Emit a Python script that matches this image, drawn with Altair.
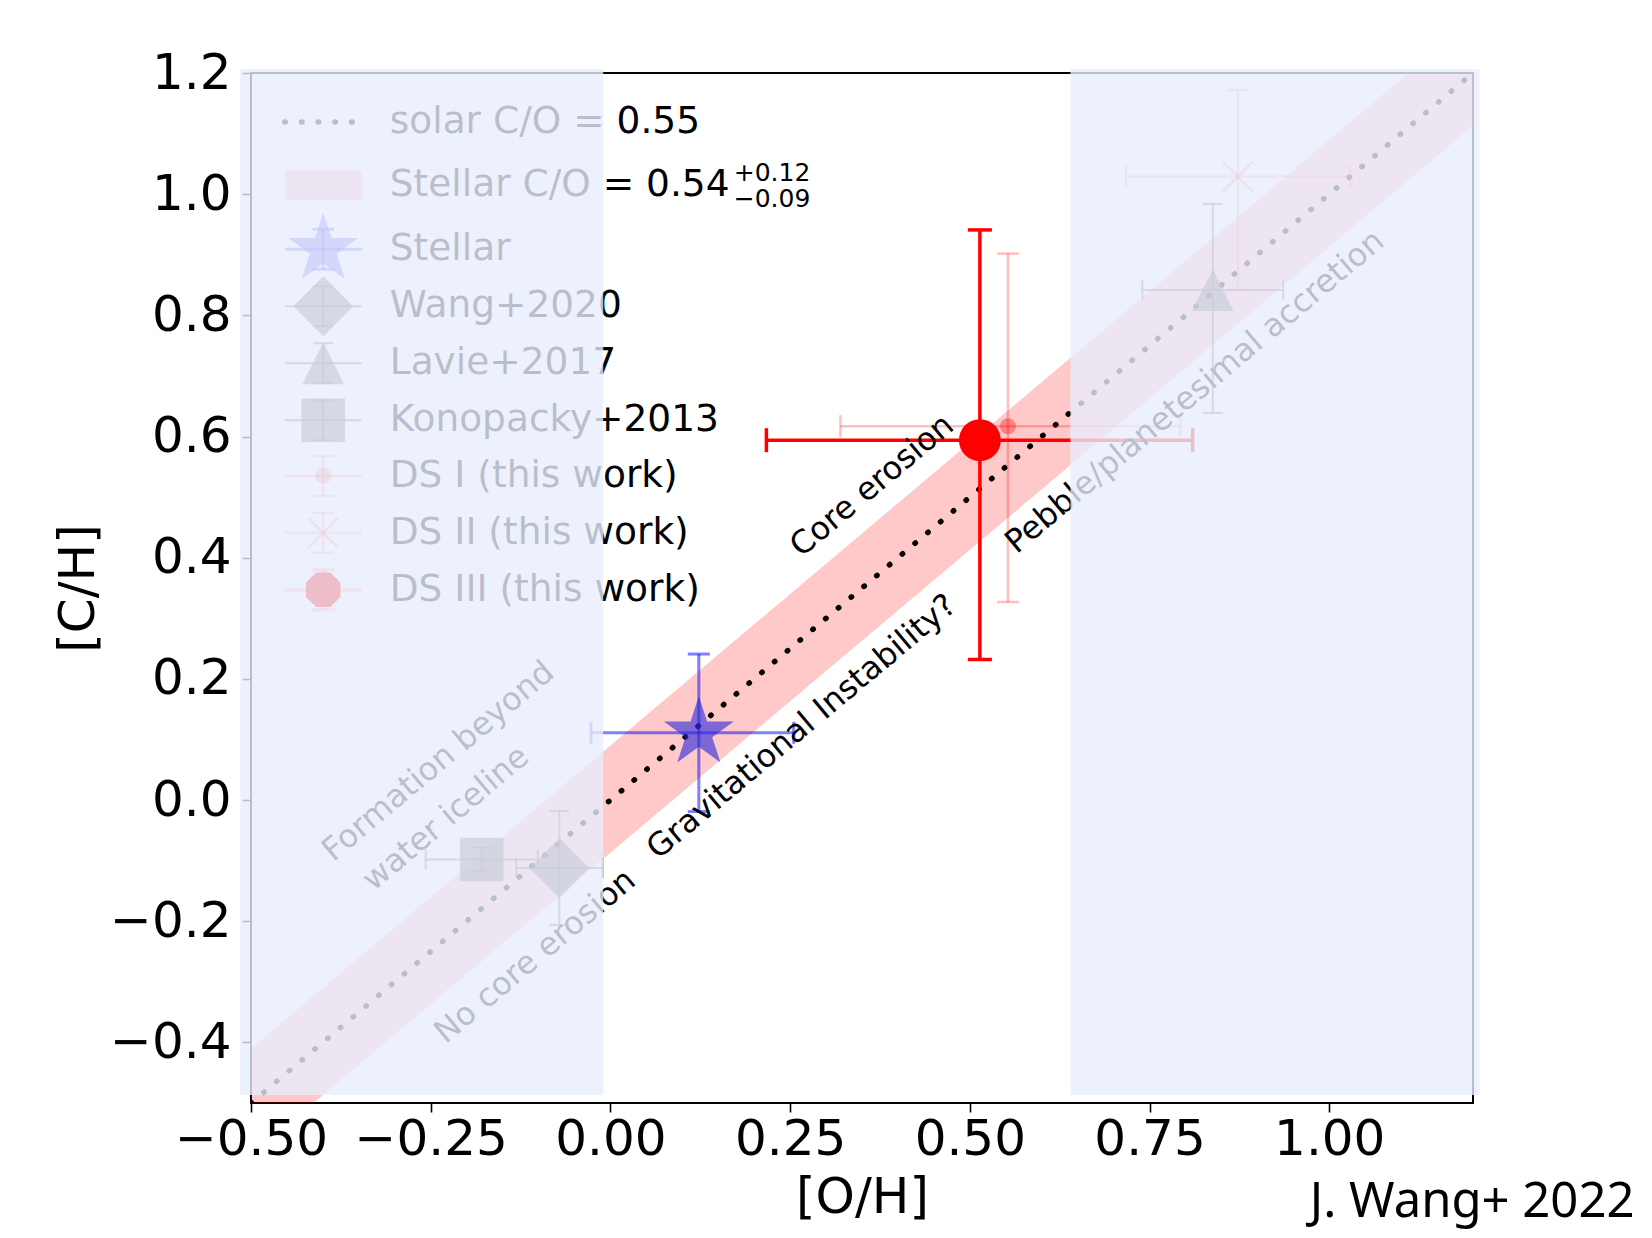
import math
import altair as alt
import pandas as pd

# ---------------- data ----------------
names = ["Stellar", "Wang+2020", "Lavie+2017", "Konopacky+2013",
         "DS I (this work)", "DS II (this work)", "DS III (this work)"]
oh     = [0.123, -0.071, 0.838, -0.179, 0.553, 0.873, 0.514]
ch     = [0.111, -0.112, 0.842, -0.098, 0.617, 1.029, 0.594]
oh_elo = [0.150, 0.060, 0.098, 0.078, 0.233, 0.156, 0.297]
oh_ehi = [0.132, 0.060, 0.098, 0.078, 0.240, 0.156, 0.296]
ch_elo = [0.130, 0.094, 0.203, 0.020, 0.290, 0.187, 0.362]
ch_ehi = [0.130, 0.094, 0.142, 0.020, 0.285, 0.143, 0.347]

# solar C/O line and stellar C/O band
solar_oh = [-0.5, 1.2]
solar_ch = [-0.5, 1.2]
band_oh = [-0.6, 1.3]
band_ch_lo = [-0.687, 1.213]
band_ch_hi = [-0.510, 1.390]

legend_labels = ["solar C/O = 0.55", "Stellar C/O = 0.54", "Stellar", "Wang+2020",
                 "Lavie+2017", "Konopacky+2013", "DS I (this work)",
                 "DS II (this work)", "DS III (this work)"]
stellar_sup = "+0.12"
stellar_sub = "\u22120.09"

ann_text = ["Core erosion", "Gravitational Instability?", "No core erosion",
            "Formation beyond", "water iceline", "Pebble/planetesimal accretion"]
ann_oh = [0.364, 0.266, -0.105, -0.2395, -0.229, 0.813]
ann_ch = [0.519, 0.121, -0.258, 0.064, -0.030, 0.674]

# shaded (faded) regions laid over the figure
shade_oh0 = [-0.515, 0.640]
shade_oh1 = [-0.010, 1.209]
shade_ch0 = [-0.487, -0.487]
shade_ch1 = [1.206, 1.206]

x_ticks = [-0.5, -0.25, 0.0, 0.25, 0.5, 0.75, 1.0]
y_ticks = [-0.4, -0.2, 0.0, 0.2, 0.4, 0.6, 0.8, 1.0, 1.2]

# ---------------- layout / style ----------------
W, H = 1222, 1030
FONT = "DejaVu Sans"
XS = alt.Scale(domain=[-0.5, 1.2], nice=False, zero=False)
YS = alt.Scale(domain=[-0.5, 1.2], nice=False, zero=False)

# legend layout (data units of the axes)
leg_y = [1.119, 1.015, 0.909, 0.815, 0.721, 0.627, 0.535, 0.441, 0.347]
leg_x0, leg_x1, leg_xc, leg_xt = -0.453, -0.346, -0.3995, -0.307
leg_half = 0.033


def star_path(n=5, inner=0.381966):
    pts = []
    for k in range(2 * n):
        r = 1.0 if k % 2 == 0 else inner
        a = math.pi / 2 + k * math.pi / n
        pts.append((r * math.cos(a), -r * math.sin(a)))
    return "M" + "L".join(f"{x:.4f},{y:.4f}" for x, y in pts) + "Z"


def octagon_path():
    pts = []
    for k in range(8):
        a = math.radians(22.5 + 45 * k)
        pts.append((math.cos(a), math.sin(a)))
    return "M" + "L".join(f"{x:.4f},{y:.4f}" for x, y in pts) + "Z"


STAR = star_path()
DIAMOND = "M0,-1L1,0L0,1L-1,0Z"
TRIANGLE = "M0,-1L1,1L-1,1Z"
SQUARE = "M-1,-1L1,-1L1,1L-1,1Z"
XMARK = "M-1,-1L1,1M-1,1L1,-1"
OCTAGON = octagon_path()

GRAY_M = "#4a4a4a"
styles = {
    "Stellar": dict(shape=STAR, size=5400, fill="#2b2bdc", mop=0.62, filled=True,
                    bar="#0000ff", bop=0.5, sw=3, cap=22),
    "Wang+2020": dict(shape=DIAMOND, size=3600, fill=GRAY_M, mop=0.65, filled=True,
                      bar="#555555", bop=0.7, sw=2, cap=20),
    "Lavie+2017": dict(shape=TRIANGLE, size=1760, fill=GRAY_M, mop=0.65, filled=True,
                       bar="#555555", bop=0.7, sw=2, cap=20),
    "Konopacky+2013": dict(shape=SQUARE, size=1900, fill=GRAY_M, mop=0.65, filled=True,
                           bar="#555555", bop=0.7, sw=2, cap=20),
    "DS I (this work)": dict(shape="circle", size=260, fill="#ff0000", mop=0.35, filled=True,
                             bar="#ff0000", bop=0.25, sw=2.5, cap=22),
    "DS II (this work)": dict(shape=XMARK, size=900, fill="#ff0000", mop=0.3, filled=False,
                              bar="#ff0000", bop=0.25, sw=2.5, cap=22),
    "DS III (this work)": dict(shape="circle", size=1760, fill="#ff0000", mop=1.0, filled=True,
                               bar="#ff0000", bop=1.0, sw=3.5, cap=24),
}
legend_marker = {"DS III (this work)": OCTAGON}


def X(f, axis=alt.Undefined):
    return alt.X(f"{f}:Q", scale=XS, axis=axis)


def Y(f, axis=alt.Undefined):
    return alt.Y(f"{f}:Q", scale=YS, axis=axis)


x_axis = alt.Axis(values=x_ticks, format=".2f", title="[O/H]", grid=False, domain=False,
                  tickSize=9, tickWidth=1.6, tickColor="black", labelPadding=2,
                  labelFont=FONT, labelFontSize=50, labelColor="black",
                  titleFont=FONT, titleFontSize=50, titleFontWeight="normal",
                  titleColor="black", titlePadding=8, labelFlush=False, labelOverlap=False)
y_axis = alt.Axis(values=y_ticks, format=".1f", title="[C/H]", grid=False, domain=False,
                  tickSize=9, tickWidth=1.6, tickColor="black", labelPadding=11,
                  labelFont=FONT, labelFontSize=50, labelColor="black",
                  titleFont=FONT, titleFontSize=50, titleFontWeight="normal",
                  titleColor="black", titlePadding=6, labelFlush=False, labelOverlap=False)

layers = []

# stellar C/O band
band_df = pd.DataFrame({"oh": band_oh, "lo": band_ch_lo, "hi": band_ch_hi})
layers.append(alt.Chart(band_df).mark_area(color="#ff0000", opacity=0.21, clip=True).encode(
    x=X("oh", x_axis), y=Y("lo", y_axis), y2="hi:Q"))

# solar C/O line
solar_df = pd.DataFrame({"oh": solar_oh, "ch": solar_ch})
layers.append(alt.Chart(solar_df).mark_line(color="black", strokeWidth=5.5, strokeDash=[0.5, 16.2],
                                            strokeCap="round", clip=True).encode(
    x=X("oh"), y=Y("ch")))

# data points with error bars
for i, nm in enumerate(names):
    s = styles[nm]
    d = pd.DataFrame({"oh": [oh[i]], "ch": [ch[i]],
                      "oh_lo": [oh[i] - oh_elo[i]], "oh_hi": [oh[i] + oh_ehi[i]],
                      "ch_lo": [ch[i] - ch_elo[i]], "ch_hi": [ch[i] + ch_ehi[i]]})
    capx = pd.DataFrame({"oh": [oh[i] - oh_elo[i], oh[i] + oh_ehi[i]], "ch": [ch[i], ch[i]]})
    capy = pd.DataFrame({"oh": [oh[i], oh[i]], "ch": [ch[i] - ch_elo[i], ch[i] + ch_ehi[i]]})
    bar_kw = dict(color=s["bar"], opacity=s["bop"])
    layers.append(alt.Chart(d).mark_rule(strokeWidth=s["sw"], **bar_kw).encode(
        x=X("oh_lo"), x2="oh_hi:Q", y=Y("ch")))
    layers.append(alt.Chart(d).mark_rule(strokeWidth=s["sw"], **bar_kw).encode(
        x=X("oh"), y=Y("ch_lo"), y2="ch_hi:Q"))
    layers.append(alt.Chart(capx).mark_tick(orient="vertical", size=s["cap"], thickness=s["sw"],
                                            **bar_kw).encode(x=X("oh"), y=Y("ch")))
    layers.append(alt.Chart(capy).mark_tick(orient="horizontal", size=s["cap"], thickness=s["sw"],
                                            **bar_kw).encode(x=X("oh"), y=Y("ch")))
    if s["filled"]:
        mk = alt.Chart(d).mark_point(shape=s["shape"], size=s["size"], filled=True,
                                     fill=s["fill"], opacity=s["mop"], strokeWidth=0)
    else:
        mk = alt.Chart(d).mark_point(shape=s["shape"], size=s["size"], filled=False,
                                     stroke=s["fill"], opacity=s["mop"], strokeWidth=2.5)
    layers.append(mk.encode(x=X("oh"), y=Y("ch")))

# region annotations
ann_df = pd.DataFrame({"oh": ann_oh, "ch": ann_ch, "t": ann_text})
layers.append(alt.Chart(ann_df).mark_text(font=FONT, fontSize=32, angle=320, align="center",
                                          baseline="middle", color="black").encode(
    x=X("oh"), y=Y("ch"), text="t:N"))

# ---------------- legend (drawn inside the axes) ----------------
leg_df = pd.DataFrame({"y": leg_y, "label": legend_labels, "xt": [leg_xt] * len(leg_y)})
# row 0: dotted line
l0 = pd.DataFrame({"oh": [leg_x0, leg_x1], "ch": [leg_y[0], leg_y[0]]})
layers.append(alt.Chart(l0).mark_line(color="black", strokeWidth=5.5, strokeDash=[0.5, 16.2],
                                      strokeCap="round").encode(x=X("oh"), y=Y("ch")))
# row 1: band patch
l1 = pd.DataFrame({"x0": [leg_x0], "x1": [leg_x1], "y0": [leg_y[1] - 0.025], "y1": [leg_y[1] + 0.025]})
layers.append(alt.Chart(l1).mark_rect(color="#ff0000", opacity=0.21).encode(
    x=X("x0"), x2="x1:Q", y=Y("y0"), y2="y1:Q"))
# rows 2..8: errorbar handles
for j, nm in enumerate(names):
    s = styles[nm]
    yy = leg_y[j + 2]
    d = pd.DataFrame({"x0": [leg_x0], "x1": [leg_x1], "xc": [leg_xc], "y": [yy],
                      "y0": [yy - leg_half], "y1": [yy + leg_half]})
    caps = pd.DataFrame({"xc": [leg_xc, leg_xc], "y": [yy - leg_half, yy + leg_half]})
    bar_kw = dict(color=s["bar"], opacity=s["bop"] if nm != "DS III (this work)" else 0.25)
    layers.append(alt.Chart(d).mark_rule(strokeWidth=s["sw"], **bar_kw).encode(
        x=X("x0"), x2="x1:Q", y=Y("y")))
    layers.append(alt.Chart(d).mark_rule(strokeWidth=s["sw"], **bar_kw).encode(
        x=X("xc"), y=Y("y0"), y2="y1:Q"))
    layers.append(alt.Chart(caps).mark_tick(orient="horizontal", size=s["cap"], thickness=s["sw"],
                                            **bar_kw).encode(x=X("xc"), y=Y("y")))
    shape = legend_marker.get(nm, s["shape"])
    size = 1400 if nm == "DS III (this work)" else s["size"]
    if s["filled"]:
        mk = alt.Chart(d).mark_point(shape=shape, size=size, filled=True, fill=s["fill"],
                                     opacity=s["mop"], strokeWidth=0)
    else:
        mk = alt.Chart(d).mark_point(shape=shape, size=size, filled=False, stroke=s["fill"],
                                     opacity=s["mop"], strokeWidth=2.5)
    layers.append(mk.encode(x=X("xc"), y=Y("y")))
# legend labels
layers.append(alt.Chart(leg_df).mark_text(font=FONT, fontSize=37.5, align="left", baseline="middle",
                                          color="black").encode(x=X("xt"), y=Y("y"), text="label:N"))
supsub = pd.DataFrame({"xt": [leg_xt], "y": [leg_y[1]], "sup": [stellar_sup], "sub": [stellar_sub]})
layers.append(alt.Chart(supsub).mark_text(font=FONT, fontSize=25, align="left", baseline="middle",
                                          dx=344, dy=-12, color="black").encode(
    x=X("xt"), y=Y("y"), text="sup:N"))
layers.append(alt.Chart(supsub).mark_text(font=FONT, fontSize=25, align="left", baseline="middle",
                                          dx=344, dy=14, color="black").encode(
    x=X("xt"), y=Y("y"), text="sub:N"))

# ---------------- faded overlay regions ----------------
shade_df = pd.DataFrame({"x0": shade_oh0, "x1": shade_oh1, "y0": shade_ch0, "y1": shade_ch1})
layers.append(alt.Chart(shade_df).mark_rect(fill="rgb(233,238,252)", opacity=0.8, strokeWidth=0).encode(
    x=X("x0"), x2="x1:Q", y=Y("y0"), y2="y1:Q"))

chart = alt.layer(*layers).properties(
    width=W, height=H,
    background="white",
    title=alt.TitleParams("J. Wang+ 2022", orient="bottom", anchor="end", font="Noto Sans",
                          fontSize=49, fontWeight="normal", color="black", dx=155, offset=-44),
    autosize=alt.AutoSizeParams(type="none"),
    padding={"left": 251, "top": 73, "right": 1652 - 251 - W, "bottom": 1238 - 73 - H},
).configure_view(stroke="black", strokeWidth=2)

chart.save("out.html", embed_options={"renderer": "svg", "actions": False})
